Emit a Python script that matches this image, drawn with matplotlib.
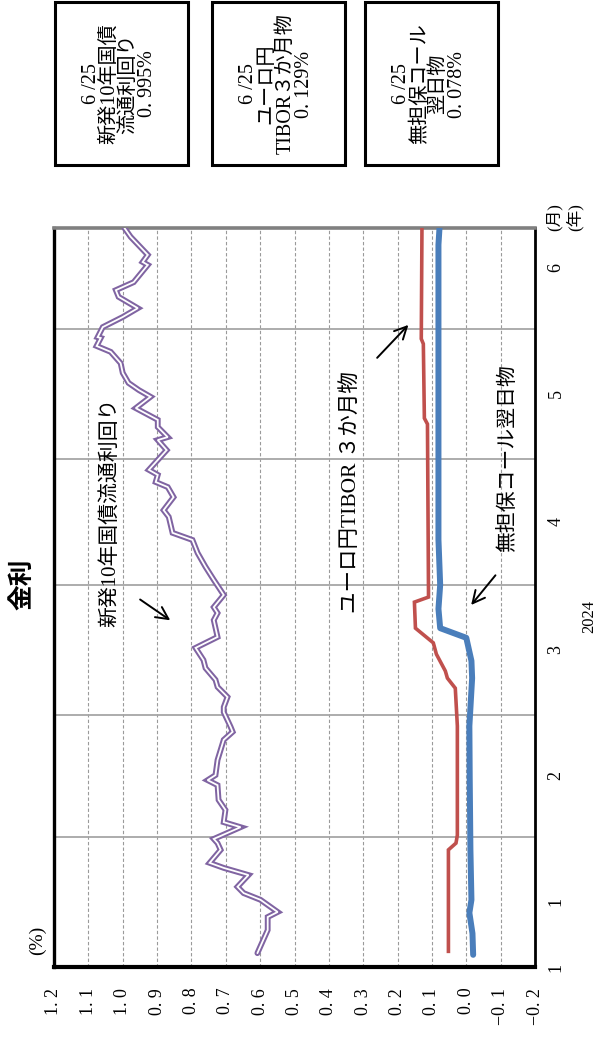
import matplotlib
matplotlib.use("Agg")
import matplotlib.pyplot as plt
from matplotlib.patches import Rectangle
from matplotlib import transforms

# ---------------- data (day = days since 2024-01-01) ----------------
jgb_day = [3.3, 8.8, 11.9, 13.1, 16.0, 17.6, 19.1, 21.9, 23.6, 24.8, 27.9, 29.5, 30.5,
           33.3, 34.5, 37.4, 39.8, 43.3, 44.5, 45.7, 49.3, 54.1, 56.0, 57.2, 60.7, 61.9,
           64.3, 66.7, 68.4, 71.2, 73.1, 76.0, 78.6, 82.6, 84.3, 85.7, 88.6, 92.2, 95.3,
           98.6, 101.7, 103.4, 107.2, 108.8, 111.9, 114.3, 115.5, 117.2, 118.4, 123.1,
           125.5, 126.2, 128.6, 130.3, 133.1, 135.8, 137.4, 139.1, 141.5, 143.8, 146.5,
           147.9, 149.8, 150.0, 152.4, 154.8, 156.9, 159.6, 161.2, 163.1, 167.2, 167.9,
           169.6, 173.9, 176.0]
jgb_val = [0.608, 0.578, 0.578, 0.549, 0.599, 0.648, 0.666, 0.634, 0.706, 0.747, 0.715,
           0.724, 0.735, 0.657, 0.706, 0.701, 0.721, 0.724, 0.753, 0.730, 0.724, 0.706,
           0.680, 0.686, 0.706, 0.706, 0.695, 0.724, 0.730, 0.759, 0.765, 0.788, 0.724,
           0.735, 0.724, 0.735, 0.706, 0.735, 0.759, 0.782, 0.797, 0.855, 0.866, 0.881,
           0.852, 0.869, 0.904, 0.898, 0.924, 0.872, 0.898, 0.869, 0.898, 0.898, 0.962,
           0.919, 0.953, 0.983, 1.000, 1.006, 1.035, 1.076, 1.064, 1.073, 1.058, 1.000,
           0.956, 1.012, 1.020, 0.968, 0.927, 0.942, 0.927, 0.977, 0.995]

tibor_day = [3.3, 27.9, 29.5, 31.4, 57.4, 66.4, 68.8, 70.5, 74.5, 77.2, 80.7, 86.9,
             88.1, 89.3, 129.3, 130.7, 148.4, 149.6, 176.0]
tibor_val = [0.052, 0.052, 0.030, 0.026, 0.026, 0.032, 0.055, 0.061, 0.087, 0.096,
             0.148, 0.151, 0.110, 0.110, 0.113, 0.122, 0.125, 0.131, 0.129]

call_day = [2.9, 8.0, 12.9, 16.0, 28.0, 45.0, 57.4, 68.8, 72.9, 78.4, 80.7, 85.3,
            91.0, 101.8, 172.0, 176.0]
call_val = [-0.020, -0.018, -0.009, -0.015, -0.012, -0.010, -0.009, -0.017, -0.015,
            0.000, 0.076, 0.081, 0.076, 0.081, 0.081, 0.078]

value_ticks = [1.2, 1.1, 1.0, 0.9, 0.8, 0.7, 0.6, 0.5, 0.4, 0.3, 0.2, 0.1, 0.0, -0.1, -0.2]
value_labels = ["1. 2", "1. 1", "1. 0", "0. 9", "0. 8", "0. 7", "0. 6", "0. 5", "0. 4",
                "0. 3", "0. 2", "0. 1", "0. 0", "\u22120. 1", "\u22120. 2"]
month_start_days = [31, 60, 91, 121, 152]
month_label_days = [0, 15.5, 45.5, 75.5, 106, 136.5, 166.5]
month_labels = ["1", "1", "2", "3", "4", "5", "6"]
year_label = "2024"

box_texts = ["6 /25\n新発10年国債\n流通利回り\n0. 995%",
             "6 /25\nユーロ円\nTIBOR３か月物\n0. 129%",
             "6 /25\n無担保コール\n翌日物\n0. 078%"]

# ---------------- figure ----------------
W, H = 601, 1043
fig = plt.figure(figsize=(W / 100, H / 100), dpi=100)
SERIF = ["Liberation Serif", "Noto Sans CJK JP"]
JP = ["Noto Sans CJK JP", "DejaVu Sans"]

def fx(px):
    return px / W

def fy(py):
    return 1 - py / H

ax = fig.add_axes([fx(54), fy(967), fx(535) - fx(54), fy(228) - fy(967)])
ax.set_xlim(1.2, -0.2)
ax.set_ylim(0, 176)

for v in value_ticks[1:-1]:
    ax.axvline(v, color="#9a9a9a", lw=0.8, ls=(0, (3, 2)), zorder=1)
for d in month_start_days:
    ax.axhline(d, color="#a6a6a6", lw=1.3, zorder=1)

# lines
ax.plot(tibor_val, tibor_day, color="#c0504d", lw=2.6,
        solid_capstyle="butt", solid_joinstyle="miter", zorder=3)
ax.plot(call_val, call_day, color="#4a7ebb", lw=4.3, solid_capstyle="round",
        solid_joinstyle="round", zorder=3)
ax.plot(jgb_val, jgb_day, color="#8064a2", lw=4.2, solid_capstyle="round",
        solid_joinstyle="miter", zorder=4)
ax.plot(jgb_val, jgb_day, color="white", lw=1.3, solid_capstyle="round",
        solid_joinstyle="miter", zorder=5)

# axes styling
ax.set_xticks(value_ticks)
ax.set_xticklabels(value_labels, rotation=90, fontfamily=SERIF, fontsize=13)
ax.tick_params(axis="x", length=0, pad=15)
ax.set_yticks([])
ax.spines["left"].set_linewidth(2.4)
ax.spines["left"].set_color("black")
ax.spines["bottom"].set_linewidth(3.0)
ax.spines["bottom"].set_color("black")
ax.spines["right"].set_linewidth(2.0)
ax.spines["right"].set_color("black")
ax.spines["top"].set_linewidth(2.6)
ax.spines["top"].set_color("#808080")

# month labels at right side
tr = transforms.blended_transform_factory(ax.transAxes, ax.transData)
for d, lab in zip(month_label_days, month_labels):
    ax.text(1.0437, d, lab, transform=tr, rotation=90, ha="center", va="center",
            fontfamily=SERIF, fontsize=13)
fig.text(fx(554), fy(217), "(月)", rotation=90, ha="center", va="center",
         fontfamily=SERIF, fontsize=12)
fig.text(fx(575), fy(217), "(年)", rotation=90, ha="center", va="center",
         fontfamily=SERIF, fontsize=12)
fig.text(fx(589), fy(616), year_label, rotation=90, ha="center", va="center",
         fontfamily=SERIF, fontsize=12)

# title and unit
fig.text(fx(22), fy(584), "金利", rotation=90, ha="center", va="center",
         fontfamily=JP, fontsize=18.5, fontweight="bold")
fig.text(fx(37), fy(940), "(%)", rotation=90, ha="center", va="center",
         fontfamily=SERIF, fontsize=14)

# series annotations
ax.text(1.035, 108.4, "新発10年国債流通利回り", rotation=90, ha="center", va="center",
        fontfamily=SERIF, fontsize=15)
ax.text(0.337, 113.0, "ユーロ円TIBOR ３か月物", rotation=90, ha="center", va="center",
        fontfamily=SERIF, fontsize=15.5)
ax.text(-0.122, 121.2, "無担保コール翌日物", rotation=90, ha="center", va="center",
        fontfamily=SERIF, fontsize=15)
arrow = dict(arrowstyle="->", color="black", lw=1.4, mutation_scale=22)
ax.annotate("", xy=(0.855, 82.2), xytext=(0.956, 87.9), arrowprops=arrow)
ax.annotate("", xy=(0.163, 153.4), xytext=(0.265, 144.6), arrowprops=arrow)
ax.annotate("", xy=(-0.009, 85.7), xytext=(-0.090, 93.8), arrowprops=arrow)

# top boxes
box_x = [(55, 188), (212, 345), (365, 498)]
for (x0, x1), txt in zip(box_x, box_texts):
    fig.patches.append(Rectangle((fx(x0), fy(165)), fx(x1) - fx(x0), fy(2) - fy(165),
                                 transform=fig.transFigure, fill=False,
                                 edgecolor="black", lw=2.2))
    fig.text(fx((x0 + x1) / 2 - 2), fy(84), txt, rotation=90, ha="center", va="center",
             multialignment="center", fontfamily=SERIF, fontsize=14.5, linespacing=0.98)

fig.savefig("out.png", dpi=100)
